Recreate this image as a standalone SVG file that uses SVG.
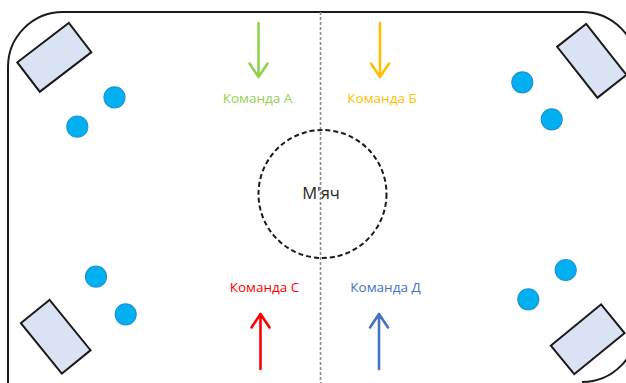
<svg xmlns="http://www.w3.org/2000/svg" width="626" height="383" viewBox="0 0 626 383">
  <defs>
    <style>
      .field { fill: none; stroke: #1a1a1a; stroke-width: 2; }
      .midline { stroke: #8c8c8c; stroke-width: 1.6; stroke-dasharray: 3 2; }
      .centre { fill: none; stroke: #1a1a1a; stroke-width: 2; stroke-dasharray: 5 3; }
      .goal { fill: #dae3f3; stroke: #1a1a1a; stroke-width: 2; }
      .player { fill: #00b0f0; stroke: #1e96d2; stroke-width: 1.2; }
      .arrow { fill: none; stroke-width: 2.6; stroke-linecap: round; stroke-linejoin: round; }
      .label { font-family: "Open Sans", "Noto Sans", sans-serif; font-size: 13.5px; text-anchor: middle; }
      .ball { font-family: "Open Sans", "Noto Sans", sans-serif; font-size: 16.5px; fill: #262626; text-anchor: middle; }
    </style>
  </defs>

  <rect width="626" height="383" fill="#ffffff"/>

  <!-- playing field outline -->
  <path class="field" d="M 8 383 V 67 A 55 55 0 0 1 63 12 H 582 A 55 55 0 0 1 637 67 V 327 A 55 55 0 0 1 582 382"/>

  <!-- centre line -->
  <g id="centre-line">
    <line class="midline" x1="320.5" y1="12" x2="320.5" y2="383"/>
  </g>

  <!-- centre circle with ball -->
  <g id="ball">
    <circle class="centre" cx="322.5" cy="194" r="64"/>
    <text class="ball" x="321" y="199">М'яч</text>
  </g>

  <!-- goals -->
  <g id="goal-top-left">
    <rect class="goal" x="-32.5" y="-18.5" width="65" height="37" transform="translate(54.3 57.3) rotate(-37.5)"/>
  </g>
  <g id="goal-top-right">
    <rect class="goal" x="-32.5" y="-18.5" width="65" height="37" transform="translate(591.8 60.8) rotate(51.7)"/>
  </g>
  <g id="goal-bottom-left">
    <rect class="goal" x="-32.5" y="-18.5" width="65" height="37" transform="translate(55.7 336.7) rotate(50.9)"/>
  </g>
  <g id="goal-bottom-right">
    <rect class="goal" x="-32.5" y="-18.5" width="65" height="37" transform="translate(587.7 339.3) rotate(-39.3)"/>
  </g>

  <!-- players -->
  <g id="players-top-left">
    <circle class="player" cx="114.5" cy="97.3" r="10.5"/>
    <circle class="player" cx="77.3" cy="126.7" r="10.5"/>
  </g>
  <g id="players-top-right">
    <circle class="player" cx="522.3" cy="82.3" r="10.5"/>
    <circle class="player" cx="551.7" cy="119.3" r="10.5"/>
  </g>
  <g id="players-bottom-left">
    <circle class="player" cx="96" cy="276.7" r="10.5"/>
    <circle class="player" cx="125.7" cy="314.3" r="10.5"/>
  </g>
  <g id="players-bottom-right">
    <circle class="player" cx="565.7" cy="270" r="10.5"/>
    <circle class="player" cx="528.3" cy="299.3" r="10.5"/>
  </g>

  <!-- team arrows -->
  <g id="connectors">
    <path class="arrow" stroke="#92d050" d="M 258.5 23 V 77 M 249.5 63.5 L 258.5 77 L 267.5 63.5"/>
    <path class="arrow" stroke="#ffc000" d="M 380 23 V 77 M 371 63.5 L 380 77 L 389 63.5"/>
    <path class="arrow" stroke="#ff0000" d="M 260.5 369 V 314 M 251.5 327.5 L 260.5 314 L 269.5 327.5"/>
    <path class="arrow" stroke="#4472c4" d="M 379 369 V 314 M 370 327.5 L 379 314 L 388 327.5"/>
  </g>

  <!-- team labels -->
  <g id="team-a"><text class="label" x="257.5" y="102.5" fill="#92d050">Команда А</text></g>
  <g id="team-b"><text class="label" x="382" y="102.5" fill="#ffc000">Команда Б</text></g>
  <g id="team-c"><text class="label" x="264.5" y="291.5" fill="#ff0000">Команда С</text></g>
  <g id="team-d"><text class="label" x="385.5" y="291.5" fill="#4472c4">Команда Д</text></g>
</svg>
